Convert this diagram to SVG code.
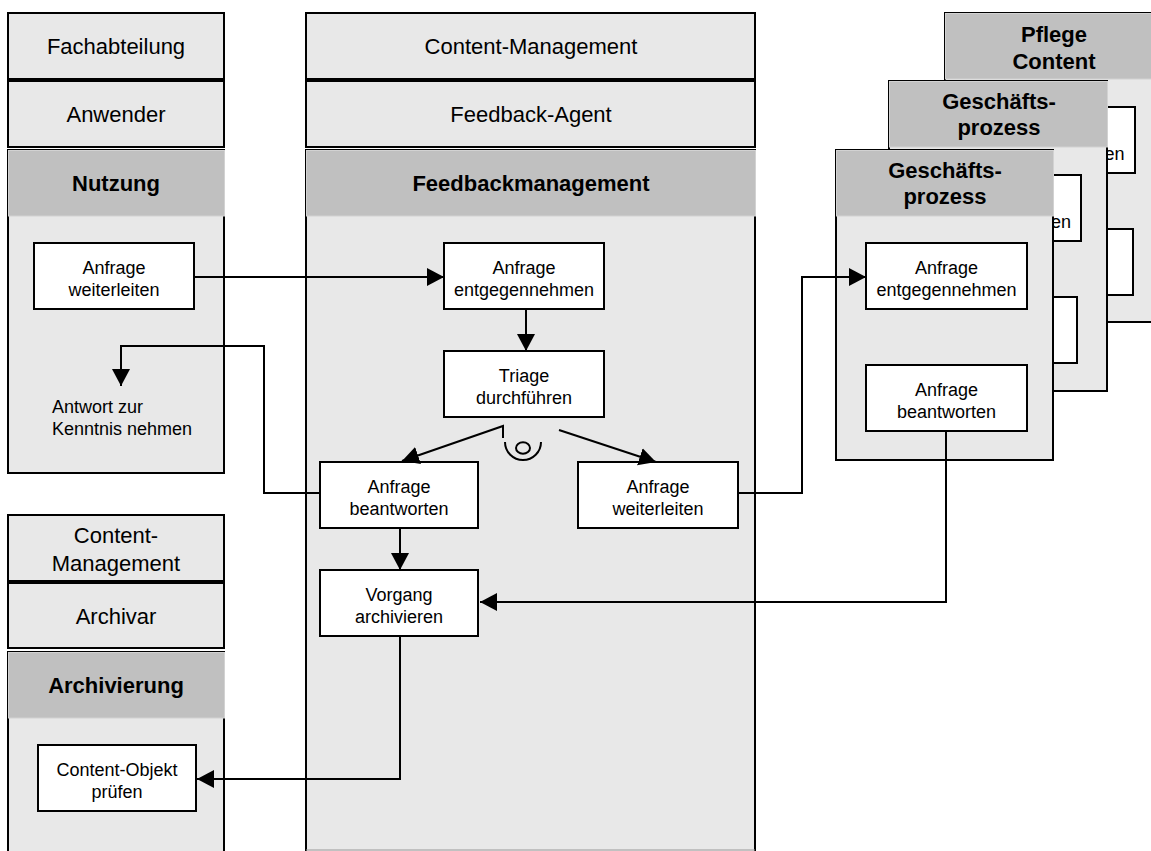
<svg xmlns="http://www.w3.org/2000/svg" width="1151" height="851" viewBox="0 0 1151 851">
<defs>
<style>
.hdr{fill:#e8e8e8;stroke:#000;stroke-width:2}
.band{fill:#c0c0c0;stroke:#d2d2d2;stroke-width:1}
.body{fill:#e8e8e8;stroke:#000;stroke-width:2}
.box{fill:#fff;stroke:#000;stroke-width:2}
.t{font-family:"Liberation Sans",Arial,sans-serif;font-size:22px;text-anchor:middle;fill:#000}
.tb{font-family:"Liberation Sans",Arial,sans-serif;font-size:22px;font-weight:bold;text-anchor:middle;fill:#000}
.bt{font-family:"Liberation Sans",Arial,sans-serif;font-size:18px;text-anchor:middle;fill:#000}
.conn{fill:none;stroke:#000;stroke-width:2}
</style>
<marker id="ah" markerUnits="userSpaceOnUse" markerWidth="18" markerHeight="19" refX="17" refY="9" orient="auto">
<path d="M0,0 L17,9 L0,18 z" fill="#000"/>
</marker>
</defs>
<rect width="1151" height="851" fill="#fff"/>

<!-- Left top lane -->
<g id="lane-fachabteilung">
<rect class="body" x="8" y="150" width="216" height="323"/>
<rect class="band" x="8.5" y="150.5" width="216" height="65.5"/>
<rect class="hdr" x="8" y="13" width="216" height="66"/>
<rect class="hdr" x="8" y="81" width="216" height="66"/>
<text class="t" x="116" y="54">Fachabteilung</text>
<text class="t" x="116" y="122">Anwender</text>
<text class="tb" x="116" y="191">Nutzung</text>
</g>
<g id="n-anfrage-weiterleiten-1">
<rect class="box" x="34" y="243" width="160" height="66"/>
<text class="bt" x="114" y="274">Anfrage</text>
<text class="bt" x="114" y="296">weiterleiten</text>
</g>
<g id="n-antwort">
<text class="bt" x="52" y="413" style="text-anchor:start">Antwort zur</text>
<text class="bt" x="52" y="435" style="text-anchor:start">Kenntnis nehmen</text>
</g>

<!-- Left bottom lane -->
<g id="lane-archiv">
<rect class="body" x="8" y="652" width="216" height="210"/>
<rect class="band" x="8.5" y="652.5" width="216" height="65.5"/>
<rect class="hdr" x="8" y="515" width="216" height="66"/>
<rect class="hdr" x="8" y="583" width="216" height="65"/>
<text class="t" x="116" y="543">Content-</text>
<text class="t" x="116" y="571">Management</text>
<text class="t" x="116" y="624">Archivar</text>
<text class="tb" x="116" y="693">Archivierung</text>
</g>
<g id="n-content-objekt">
<rect class="box" x="38" y="745" width="158" height="66"/>
<text class="bt" x="117" y="776">Content-Objekt</text>
<text class="bt" x="117" y="798">prüfen</text>
</g>

<!-- Middle lane -->
<g id="lane-feedback">
<rect class="body" x="306" y="150" width="449" height="712"/>
<line x1="306" y1="850" x2="755" y2="850" stroke="#999" stroke-width="1"/>
<rect class="band" x="306.5" y="150.5" width="449" height="65.5"/>
<rect class="hdr" x="306" y="13" width="449" height="66"/>
<rect class="hdr" x="306" y="81" width="449" height="66"/>
<text class="t" x="531" y="54">Content-Management</text>
<text class="t" x="531" y="122">Feedback-Agent</text>
<text class="tb" x="531" y="191">Feedbackmanagement</text>
</g>
<g id="n-entgegennehmen">
<rect class="box" x="444" y="243" width="160" height="66"/>
<text class="bt" x="524" y="274">Anfrage</text>
<text class="bt" x="524" y="296">entgegennehmen</text>
</g>
<g id="n-triage">
<rect class="box" x="444" y="351" width="160" height="66"/>
<text class="bt" x="524" y="382">Triage</text>
<text class="bt" x="524" y="404">durchführen</text>
</g>
<g id="n-beantworten">
<rect class="box" x="320" y="462" width="158" height="66"/>
<text class="bt" x="399" y="493">Anfrage</text>
<text class="bt" x="399" y="515">beantworten</text>
</g>
<g id="n-weiterleiten-2">
<rect class="box" x="578" y="462" width="160" height="66"/>
<text class="bt" x="658" y="493">Anfrage</text>
<text class="bt" x="658" y="515">weiterleiten</text>
</g>
<g id="n-vorgang">
<rect class="box" x="320" y="570" width="158" height="66"/>
<text class="bt" x="399" y="601">Vorgang</text>
<text class="bt" x="399" y="623">archivieren</text>
</g>

<!-- Stack: back -->
<g id="lane-pflege">
<rect class="body" x="945" y="13" width="218" height="309"/>
<rect class="band" x="945.5" y="13.5" width="218" height="65.5"/>
<text class="tb" x="1054" y="42">Pflege</text>
<text class="tb" x="1054" y="69">Content</text>
<rect class="box" x="974" y="107" width="161" height="66"/>
<text class="bt" x="1054.5" y="160">entgegennehmen</text>
<rect class="box" x="972" y="229" width="161" height="66"/>
</g>
<!-- Stack: middle -->
<g id="lane-gp2">
<rect class="body" x="889" y="81" width="218" height="310"/>
<rect class="band" x="889.5" y="81.5" width="218" height="65.5"/>
<text class="tb" x="999" y="109">Geschäfts-</text>
<text class="tb" x="999" y="135">prozess</text>
<rect class="box" x="920" y="175" width="161" height="66"/>
<text class="bt" x="1001" y="228">entgegennehmen</text>
<rect class="box" x="916" y="297" width="161" height="66"/>
</g>
<!-- Stack: front -->
<g id="lane-gp1">
<rect class="body" x="836" y="150" width="217" height="310"/>
<rect class="band" x="836.5" y="150.5" width="217" height="65.5"/>
<text class="tb" x="945" y="178">Geschäfts-</text>
<text class="tb" x="945" y="204">prozess</text>
</g>
<g id="n-gp-entgegennehmen">
<rect class="box" x="866" y="243" width="161" height="66"/>
<text class="bt" x="946.5" y="274">Anfrage</text>
<text class="bt" x="946.5" y="296">entgegennehmen</text>
</g>
<g id="n-gp-beantworten">
<rect class="box" x="866" y="365" width="161" height="66"/>
<text class="bt" x="946.5" y="396">Anfrage</text>
<text class="bt" x="946.5" y="418">beantworten</text>
</g>

<!-- XOR operator -->
<g id="op-xor">
<path class="conn" d="M505,442 A18,18 0 0 0 541,442"/>
<ellipse cx="523" cy="448" rx="7" ry="5.7" fill="none" stroke="#000" stroke-width="2"/>
</g>

<!-- Connectors -->
<g id="connectors">
<path class="conn" d="M194,277 H444" marker-end="url(#ah)"/>
<path class="conn" d="M526,309 V351" marker-end="url(#ah)"/>
<path class="conn" d="M503,438 V426 L402,461" marker-end="url(#ah)"/>
<path class="conn" d="M559,430 L656,462" marker-end="url(#ah)"/>
<path class="conn" d="M320,493 H264 V346 H121 V386" marker-end="url(#ah)"/>
<path class="conn" d="M400,528 V570" marker-end="url(#ah)"/>
<path class="conn" d="M738,493 H802 V277 H866" marker-end="url(#ah)"/>
<path class="conn" d="M946,431 V602 H480" marker-end="url(#ah)"/>
<path class="conn" d="M400,636 V779 H197" marker-end="url(#ah)"/>
</g>
</svg>
